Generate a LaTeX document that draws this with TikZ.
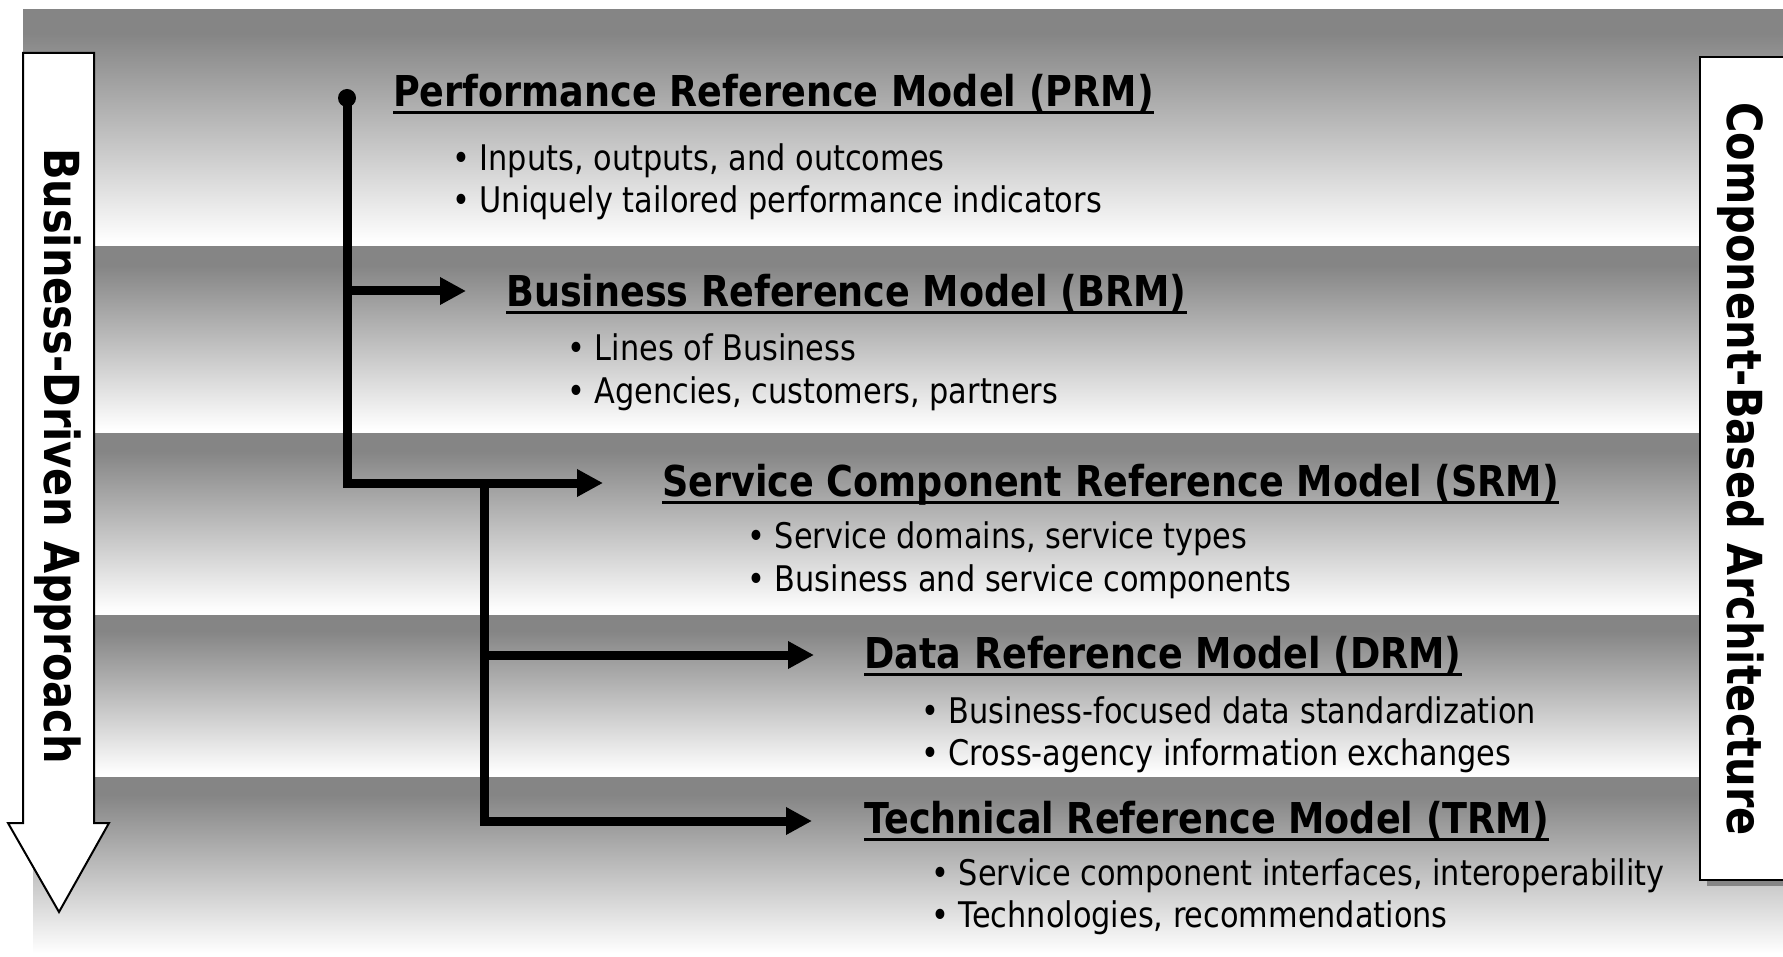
\documentclass[tikz,border=0pt]{standalone}
\usepackage{fontspec}
\setmainfont{DejaVu Sans}[FakeStretch=0.86]
\usetikzlibrary{arrows.meta}
\definecolor{bandgray}{RGB}{133,133,133}
\pgfdeclareverticalshading{bandshade}{100bp}{color(0bp)=(white); color(26bp)=(white); color(70bp)=(bandgray); color(100bp)=(bandgray)}
\begin{document}
\begin{tikzpicture}[x=1pt,y=-1pt,
  band/.style={shading=bandshade},
  conn/.style={line width=9pt,-{Triangle[length=26pt,width=26pt]}},
  ttl/.style={font=\fontsize{42.5}{50}\selectfont\bfseries,inner sep=0,anchor=base west},
  blt/.style={font=\fontsize{35.3}{42}\selectfont,inner sep=0,anchor=base west},
  side/.style={font=\fontsize{48.3}{56}\selectfont\bfseries,inner sep=0,anchor=base,rotate=-90},
  uline/.style={line width=3pt},
  outl/.style={draw=black,line width=2.5pt,fill=white}]
\useasboundingbox (0,0) rectangle (1783,957);
% bands
\shade[band] (23,10) rectangle (1783,247);
\shade[band] (23,247) rectangle (1783,433);
\shade[band] (23,433) rectangle (1783,615);
\shade[band] (23,615) rectangle (1783,777);
\shade[band] (33,777) rectangle (1783,957);
% left arrow
\draw[outl,line width=2pt] (23,53) -- (94,53) -- (94,823) -- (109,823) -- (59,912) -- (8,823) -- (23,823) -- cycle;
\node[side] (bda) at (44,456) {Business-Driven Approach};
% right box
\fill[bandgray] (1707,63) rectangle (1795,886);
\draw[outl] (1700,57) rectangle (1795,880);
\node[side] (cba) at (1727,469) {Component-Based Architecture};
% titles and bullets
\node[ttl] (prm) at (393,107) {Performance Reference Model (PRM)};
\node[blt] (prm1) at (452,171) {• Inputs, outputs, and outcomes};
\node[blt] (prm2) at (452,213) {• Uniquely tailored performance indicators};
\node[ttl] (brm) at (506,307) {Business Reference Model (BRM)};
\node[blt] (brm1) at (567,361) {• Lines of Business};
\node[blt] (brm2) at (567,403) {• Agencies, customers, partners};
\node[ttl] (srm) at (662,496) {Service Component Reference Model (SRM)};
\node[blt] (srm1) at (747,548) {• Service domains, service types};
\node[blt] (srm2) at (747,591) {• Business and service components};
\node[ttl] (drm) at (864,668) {Data Reference Model (DRM)};
\node[blt] (drm1) at (921,723) {• Business-focused data standardization};
\node[blt] (drm2) at (921,765) {• Cross-agency information exchanges};
\node[ttl] (trm) at (864,833) {Technical Reference Model (TRM)};
\node[blt] (trm1) at (931,885) {• Service component interfaces, interoperability};
\node[blt] (trm2) at (931,927) {• Technologies, recommendations};
\foreach \n in {prm,brm,srm,drm,trm}
  \draw[uline] ([yshift=-6pt]\n.base west) -- ([yshift=-6pt]\n.base east);
% connectors
\coordinate (dot) at (347,98);
\coordinate (j1) at (347,291);
\coordinate (j2) at (347,483);
\coordinate (j3) at (484,483);
\coordinate (j4) at (484,655);
\coordinate (j5) at (484,821);
\coordinate (brmtip) at (466,291);
\coordinate (srmtip) at (603,483);
\coordinate (drmtip) at (814,655);
\coordinate (trmtip) at (812,821);
\draw[conn] (dot) -- (j2) -- (srmtip);
\draw[conn] (j1) -- (brmtip);
\draw[conn] (j3) -- (j5) -- (trmtip);
\draw[conn] (j4) -- (drmtip);
\fill (dot) circle (9);
\end{tikzpicture}
\end{document}
